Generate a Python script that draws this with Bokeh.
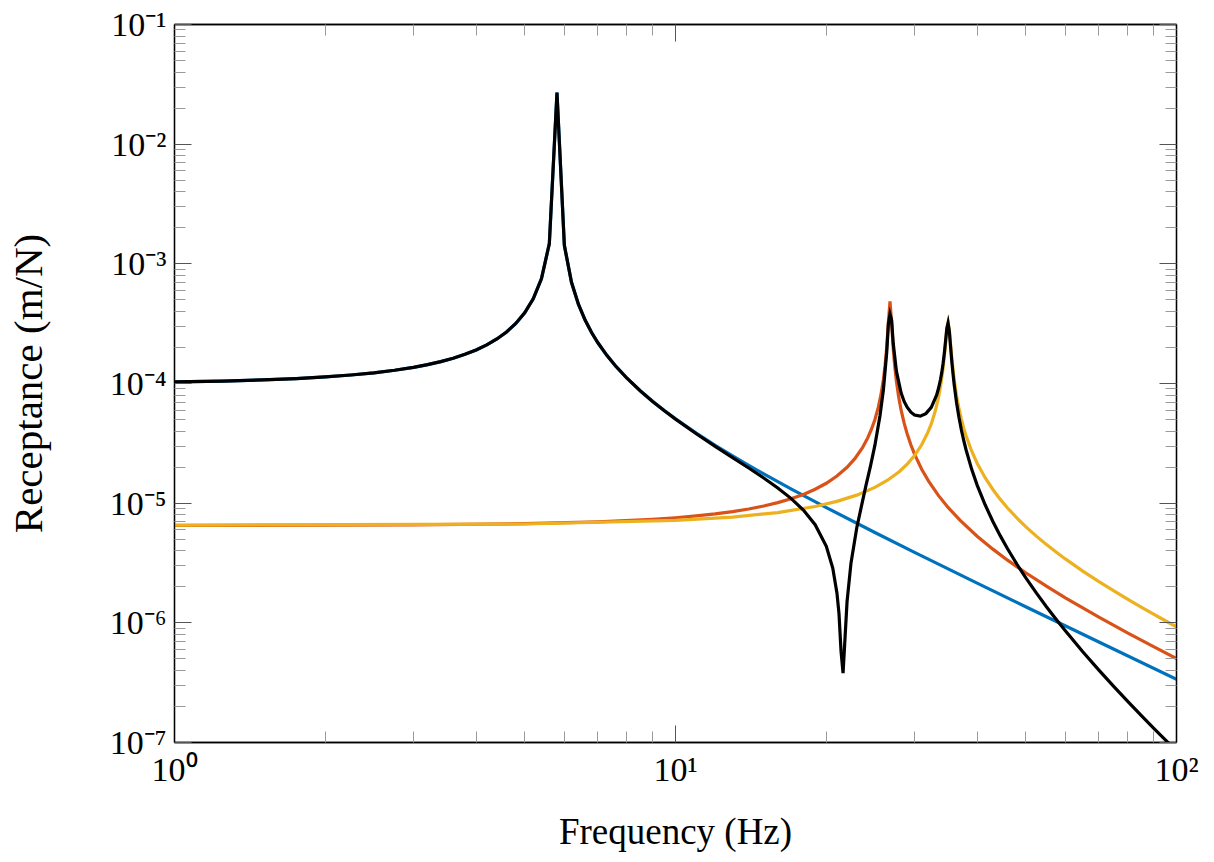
from bokeh.plotting import figure
from bokeh.models import LogAxis, FixedTicker, CustomJSTickFormatter
from bokeh.embed import file_html
from bokeh.resources import INLINE

# ---------------- data ----------------
freq_mode1 = [1, 1.25, 1.5, 1.75, 2, 2.25, 2.5, 2.75, 3, 3.2, 3.4, 3.6, 3.8, 4.0,
              4.2, 4.4, 4.6, 4.8, 5.0, 5.2, 5.4, 5.6, 5.8, 6.0, 6.2, 6.4, 6.6,
              6.8, 7.0, 7.3, 7.6, 8.0, 8.5, 9, 9.5, 10, 11, 12, 13, 14, 15, 17,
              20, 25, 30, 40, 50, 70, 100]
mode1 = [1.031e-4, 1.0487e-4, 1.072e-4, 1.1002e-4, 1.135e-4, 1.1772e-4, 1.228e-4,
         1.2900e-4, 1.365e-4, 1.4376e-4, 1.5236e-4, 1.6267e-4, 1.7521e-4,
         1.907e-4, 2.1025e-4, 2.356e-4, 2.6955e-4, 3.174e-4, 3.894e-4, 5.097e-4,
         7.508e-4, 1.475e-3, 2.70e-2, 1.425e-3, 7.008e-4, 4.596e-4, 3.391e-4,
         2.6698e-4, 2.190e-4, 1.7120e-4, 1.395e-4, 1.1080e-4, 8.713e-5, 7.103e-5,
         5.942e-5, 5.069e-5, 3.851e-5, 3.048e-5, 2.485e-5, 2.072e-5, 1.758e-5,
         1.317e-5, 9.182e-6, 5.689e-6, 3.883e-6, 2.148e-6, 1.364e-6, 6.913e-7,
         3.375e-7]

freq_mode2 = [1, 3, 5, 7, 9, 10, 11, 12, 13, 14, 15, 16, 17, 18, 19, 20, 21, 22,
              22.8, 23.6, 24.2, 24.6, 25.0, 25.4, 25.7, 26.0, 26.2, 26.4, 26.6,
              26.8, 27.0, 27.2, 27.4, 27.6, 27.9, 28.2, 28.6, 29, 29.5, 30, 31,
              32, 33.5, 35, 37, 40, 43, 46, 50, 55, 60, 70, 80, 90, 100]
mode2 = [6.509e-6, 6.5825e-6, 6.734e-6, 6.976e-6, 7.326e-6, 7.551e-6, 7.817e-6,
         8.130e-6, 8.500e-6, 8.939e-6, 9.466e-6, 1.010e-5, 1.0876e-5, 1.184e-5,
         1.3069e-5, 1.4669e-5, 1.6839e-5, 1.9933e-5, 2.3531e-5, 2.895e-5,
         3.5207e-5, 4.130e-5, 4.984e-5, 6.342e-5, 7.983e-5, 1.079e-4, 1.4078e-4,
         2.004e-4, 3.262e-4, 4.86e-4, 3.227e-4, 1.970e-4, 1.3742e-4, 1.046e-4,
         7.654e-5, 6.013e-5, 4.657e-5, 3.803e-5, 3.0713e-5, 2.568e-5, 1.923e-5,
         1.527e-5, 1.1556e-5, 9.212e-6, 7.174e-6, 5.295e-6, 4.129e-6, 3.340e-6,
         2.620e-6, 2.0238e-6, 1.620e-6, 1.116e-6, 8.217e-7, 6.3245e-7, 5.030e-7]

freq_mode3 = [1, 5, 10, 13, 16, 19, 21, 23, 25, 26.5, 28, 29, 30, 31, 31.8, 32.4,
              33.0, 33.5, 33.8, 34.0, 34.2, 34.4, 34.6, 34.8, 35.0, 35.2, 35.4,
              35.6, 35.8, 36.0, 36.4, 36.8, 37.2, 37.6, 38, 39, 40, 41.5, 43,
              44.5, 46, 48, 50, 52.5, 55, 57.5, 60, 65, 70, 75, 80, 85, 90, 95,
              100]
mode3 = [6.55e-6, 6.70e-6, 7.18e-6, 7.65e-6, 8.35e-6, 9.38e-6, 1.0359e-5,
         1.1669e-5, 1.3536e-5, 1.5537e-5, 1.8417e-5, 2.1150e-5, 2.4989e-5,
         3.0765e-5, 3.7994e-5, 4.594e-5, 5.882e-5, 7.693e-5, 9.432e-5, 1.1089e-4,
         1.340e-4, 1.675e-4, 2.170e-4, 2.824e-4, 3.21e-4, 2.795e-4, 2.134e-4,
         1.639e-4, 1.304e-4, 1.074e-4, 7.857e-5, 6.155e-5, 5.042e-5, 4.259e-5,
         3.680e-5, 2.7317e-5, 2.159e-5, 1.6333e-5, 1.3015e-5, 1.0754e-5,
         9.115e-6, 7.527e-6, 6.370e-6, 5.304e-6, 4.512e-6, 3.9024e-6, 3.420e-6,
         2.7072e-6, 2.210e-6, 1.8458e-6, 1.5695e-6, 1.3536e-6, 1.1813e-6,
         1.0412e-6, 9.256e-7]

freq_total = [1, 1.25, 1.5, 1.75, 2, 2.25, 2.5, 2.75, 3, 3.2,
              3.4, 3.6, 3.8, 4.0, 4.2, 4.4, 4.6, 4.8, 5.0, 5.2,
              5.4, 5.6, 5.8, 6.0, 6.2, 6.4, 6.6, 6.8, 7.0, 7.3,
              7.6, 8.0, 8.5, 9, 9.5, 10, 11, 12, 13, 14,
              15, 16, 17, 18, 19, 20, 20.6, 21, 21.2, 21.4,
              21.6, 21.8, 22, 22.4, 23, 23.5, 24, 24.5, 25, 25.6,
              26, 26.4, 26.6, 26.8, 27.0, 27.2, 27.6, 28.2, 28.6, 29,
              29.5, 30, 30.8, 31.6, 32.4, 33.2, 33.5, 33.8, 34.0, 34.2,
              34.4, 34.6, 34.8, 35.0, 35.2, 35.4, 35.6, 35.8, 36.0, 36.4,
              36.8, 37.2, 37.6, 38, 39, 40, 41.5, 43, 44.5, 46,
              48, 50, 52.5, 55, 57.5, 60, 65, 70, 75, 80,
              85, 90, 95, 100]
total = [1.030e-4, 1.0486e-4, 1.071e-4, 1.1001e-4, 1.134e-4, 1.1771e-4, 1.227e-4, 1.2899e-4, 1.364e-4, 1.4375e-4,
         1.5235e-4, 1.6266e-4, 1.7520e-4, 1.906e-4, 2.1024e-4, 2.355e-4, 2.6954e-4, 3.173e-4, 3.893e-4, 5.096e-4,
         7.507e-4, 1.475e-3, 2.70e-2, 1.425e-3, 7.007e-4, 4.595e-4, 3.390e-4, 2.6697e-4, 2.189e-4, 1.7108e-4,
         1.394e-4, 1.1066e-4, 8.695e-5, 7.080e-5, 5.914e-5, 5.036e-5, 3.805e-5, 2.986e-5, 2.404e-5, 1.967e-5,
         1.624e-5, 1.341e-5, 1.097e-5, 8.758e-6, 6.607e-6, 4.357e-6, 2.868e-6, 1.778e-6, 1.195e-6, 5.8e-7,
         3.8e-7, 7.6e-7, 1.503e-6, 3.150e-6, 6.21e-6, 9.404e-6, 1.4106e-5, 2.041e-5, 3.037e-5, 5.406e-5,
         8.847e-5, 1.8195e-4, 3.110e-4, 3.80e-4, 3.390e-4, 2.168e-4, 1.2675e-4, 8.345e-5, 7.081e-5, 6.335e-5,
         5.763e-5, 5.455e-5, 5.333e-5, 5.601e-5, 6.322e-5, 8.00e-5, 9.126e-5, 1.079e-4, 1.2385e-4, 1.462e-4,
         1.788e-4, 2.268e-4, 2.888e-4, 3.20e-4, 2.737e-4, 2.044e-4, 1.536e-4, 1.208e-4, 9.740e-5, 6.866e-5,
         5.191e-5, 4.109e-5, 3.355e-5, 2.808e-5, 1.925e-5, 1.415e-5, 9.691e-6, 7.033e-6, 5.327e-6, 4.160e-6,
         3.101e-6, 2.386e-6, 1.7777e-6, 1.3636e-6, 1.0705e-6, 8.568e-7, 5.733e-7, 4.027e-7, 2.927e-7, 2.194e-7,
         1.683e-7, 1.318e-7, 1.051e-7, 8.51e-8]

x_tick_exponents = [0, 1, 2]
x_tick_labels = ["10\u2070", "10\u00b9", "10\u00b2"]
y_tick_exponents = [-7, -6, -5, -4, -3, -2, -1]
y_tick_labels = ["10\u207b\u2077", "10\u207b\u2076", "10\u207b\u2075", "10\u207b\u2074",
                 "10\u207b\u00b3", "10\u207b\u00b2", "10\u207b\u00b9"]

x_label = "Frequency (Hz)"
y_label = "Receptance (m/N)"

series_colors = ["#0072BD", "#D95319", "#EDB120", "#000000"]

# ---------------- figure ----------------
FONT = "Liberation Serif"

p = figure(width=1206, height=854, x_axis_type="log", y_axis_type="log",
           x_range=(1, 100), y_range=(1e-7, 1e-1),
           output_backend="svg", toolbar_location=None,
           min_border_left=174, min_border_right=30,
           min_border_top=24, min_border_bottom=112)
p.grid.visible = False
p.outline_line_color = "black"
p.outline_line_width = 1.3
p.background_fill_color = "white"
p.border_fill_color = "white"


def make_ticker(exps):
    major = [10.0 ** e for e in exps]
    minor = [m * 10.0 ** e for e in exps[:-1] for m in range(2, 10)]
    return FixedTicker(ticks=major, minor_ticks=minor)


def label_formatter(exps, labels):
    return CustomJSTickFormatter(
        args=dict(exps=exps, labels=labels),
        code="""
        const e = Math.round(Math.log10(tick));
        const i = exps.indexOf(e);
        return i >= 0 ? labels[i] : "";
        """)


def style(ax):
    ax.major_tick_in = 17
    ax.major_tick_out = 0
    ax.minor_tick_in = 11
    ax.minor_tick_out = 0
    ax.major_tick_line_color = "#555555"
    ax.minor_tick_line_color = "#9a9a9a"
    ax.axis_line_color = "black"
    ax.axis_line_width = 1.3
    ax.major_label_text_font = FONT
    ax.major_label_text_font_size = "34px"
    ax.major_label_text_color = "black"
    ax.axis_label_text_font = FONT
    ax.axis_label_text_font_size = "37px"
    ax.axis_label_text_font_style = "normal"
    ax.axis_label_text_color = "black"


xb = p.xaxis[0]
xb.ticker = make_ticker(x_tick_exponents)
xb.formatter = label_formatter(x_tick_exponents, x_tick_labels)
style(xb)
xb.major_label_standoff = 8
xb.axis_label = x_label
xb.axis_label_standoff = 20

yl = p.yaxis[0]
yl.ticker = make_ticker(y_tick_exponents)
yl.formatter = label_formatter(y_tick_exponents, y_tick_labels)
style(yl)
yl.major_label_standoff = 8
yl.axis_label = y_label
yl.axis_label_text_font_size = "41px"
yl.axis_label_standoff = 56

blank = "return '';"
xt = LogAxis(ticker=make_ticker(x_tick_exponents),
             formatter=CustomJSTickFormatter(code=blank))
style(xt)
xt.major_label_text_font_size = "0px"
xt.major_label_standoff = 0
p.add_layout(xt, "above")

yr = LogAxis(ticker=make_ticker(y_tick_exponents),
             formatter=CustomJSTickFormatter(code=blank))
style(yr)
yr.major_label_text_font_size = "0px"
yr.major_label_standoff = 0
p.add_layout(yr, "right")

# ---------------- curves ----------------
for fx, vy, col in [(freq_mode1, mode1, series_colors[0]),
                    (freq_mode2, mode2, series_colors[1]),
                    (freq_mode3, mode3, series_colors[2]),
                    (freq_total, total, series_colors[3])]:
    p.line(fx, vy, line_color=col, line_width=3.2, line_join="miter")

open("out.html", "w").write(file_html(p, INLINE))
